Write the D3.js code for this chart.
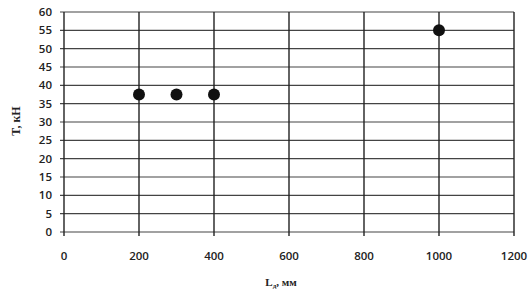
<!DOCTYPE html>
<html>
<head>
<meta charset="utf-8">
<script src="https://cdn.jsdelivr.net/npm/d3@7"></script>
<style>
  body { margin: 0; background: #fff; }
  svg { display: block; }
</style>
</head>
<body>
<svg width="532" height="289"></svg>
<script>
const lengths = [200, 300, 400, 1000];
const forces = [37.5, 37.5, 37.5, 55];
const xTicks = [0, 200, 400, 600, 800, 1000, 1200];
const yTicks = [0, 5, 10, 15, 20, 25, 30, 35, 40, 45, 50, 55, 60];

const svg = d3.select("svg");
const x = d3.scaleLinear().domain([0, 1200]).range([64, 514]);
const y = d3.scaleLinear().domain([0, 60]).range([232, 12]);

// horizontal grid
svg.append("g")
  .selectAll("line")
  .data(yTicks)
  .join("line")
  .attr("x1", x(0) - 4).attr("x2", x(1200))
  .attr("y1", d => y(d)).attr("y2", d => y(d))
  .attr("stroke", "#444").attr("stroke-width", 1.2);

// vertical grid
svg.append("g")
  .selectAll("line")
  .data(xTicks)
  .join("line")
  .attr("x1", d => x(d)).attr("x2", d => x(d))
  .attr("y1", y(60)).attr("y2", y(0) + 4)
  .attr("stroke", "#222").attr("stroke-width", 1.4);

// axis labels
svg.append("g")
  .selectAll("text")
  .data(yTicks)
  .join("text")
  .attr("x", 52).attr("y", d => y(d)).attr("dy", "0.35em")
  .attr("text-anchor", "end")
  .attr("font-family", "Open Sans, sans-serif")
  .attr("font-size", 11.5).attr("font-weight", 600).attr("fill", "#222")
  .text(d => d);

svg.append("g")
  .selectAll("text")
  .data(xTicks)
  .join("text")
  .attr("x", d => x(d)).attr("y", 260)
  .attr("text-anchor", "middle")
  .attr("font-family", "Open Sans, sans-serif")
  .attr("font-size", 11.5).attr("font-weight", 600).attr("fill", "#222")
  .text(d => d);

// points
svg.append("g")
  .selectAll("circle")
  .data(lengths)
  .join("circle")
  .attr("cx", d => x(d))
  .attr("cy", (d, i) => y(forces[i]))
  .attr("r", 6)
  .attr("fill", "#111");

// titles
svg.append("text")
  .attr("transform", "translate(20,121) rotate(-90)")
  .attr("text-anchor", "middle")
  .attr("font-family", "Liberation Serif, serif")
  .attr("font-size", 12).attr("font-weight", 600).attr("fill", "#222")
  .text("T, кН");

const xt = svg.append("text")
  .attr("x", 281).attr("y", 286)
  .attr("text-anchor", "middle")
  .attr("font-family", "Liberation Serif, serif")
  .attr("font-size", 11).attr("font-weight", "bold").attr("fill", "#222");
xt.append("tspan").text("L");
xt.append("tspan").attr("font-size", 7).attr("dy", 2).text("д");
xt.append("tspan").attr("dy", -2).text(", мм");
</script>
</body>
</html>
